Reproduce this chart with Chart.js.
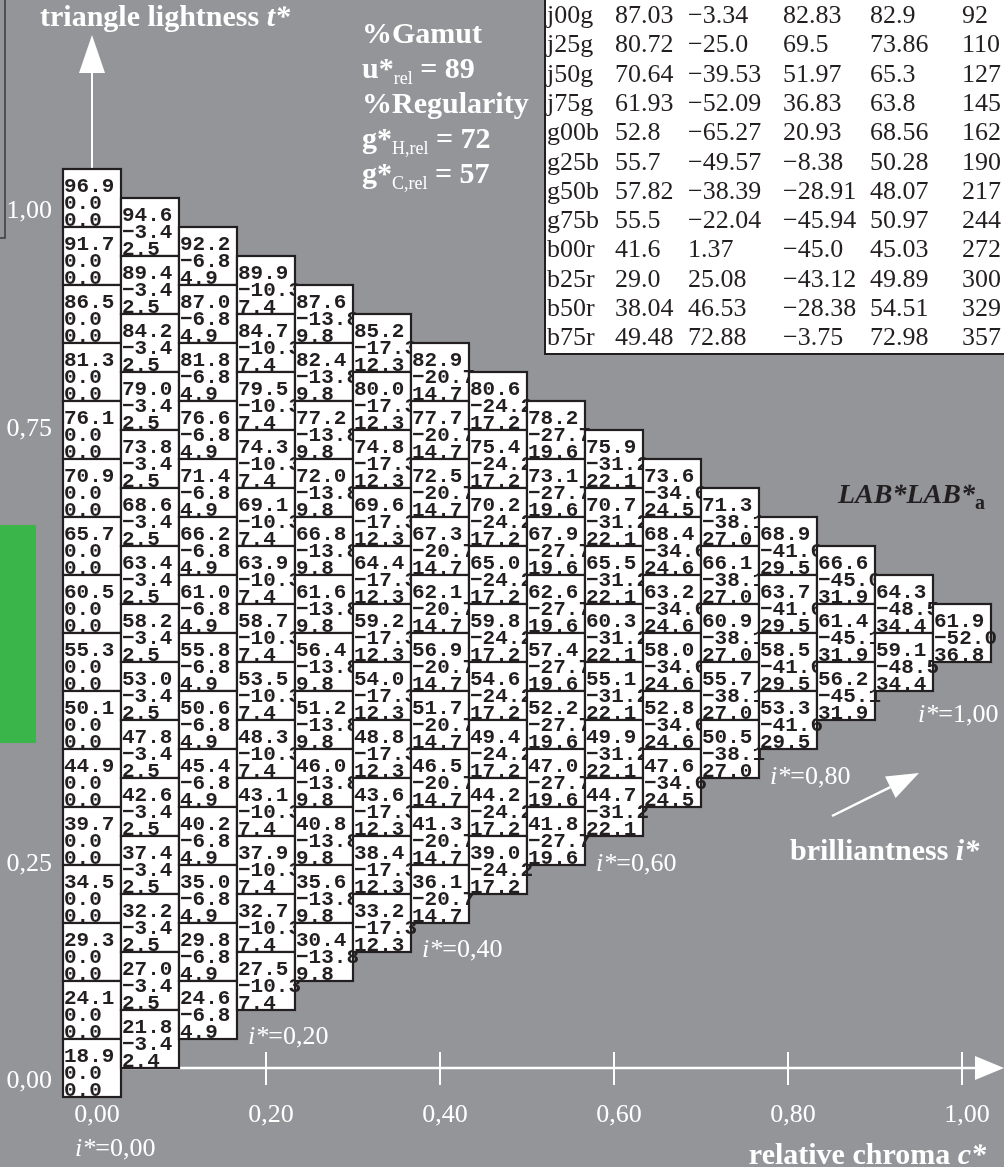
<!DOCTYPE html>
<html>
<head>
<meta charset="utf-8">
<title>LAB*LAB*a triangle</title>
<script src="https://cdn.jsdelivr.net/npm/chart.js@4.4.1/dist/chart.umd.min.js"></script>
<style>
  html, body { margin: 0; padding: 0; background: #939598; }
  #chart-wrap { width: 1004px; height: 1167px; }
</style>
</head>
<body>
<div id="chart-wrap"><canvas id="chart-lab-triangle" width="1004" height="1167"></canvas></div>
<script>
// ----------------------------------------------
// Data: one list per column of the triangle, top cell first
// ----------------------------------------------
const lightness = [
	[96.9, 91.7, 86.5, 81.3, 76.1, 70.9, 65.7, 60.5, 55.3, 50.1, 44.9, 39.7, 34.5, 29.3, 24.1, 18.9],
	[94.6, 89.4, 84.2, 79.0, 73.8, 68.6, 63.4, 58.2, 53.0, 47.8, 42.6, 37.4, 32.2, 27.0, 21.8],
	[92.2, 87.0, 81.8, 76.6, 71.4, 66.2, 61.0, 55.8, 50.6, 45.4, 40.2, 35.0, 29.8, 24.6],
	[89.9, 84.7, 79.5, 74.3, 69.1, 63.9, 58.7, 53.5, 48.3, 43.1, 37.9, 32.7, 27.5],
	[87.6, 82.4, 77.2, 72.0, 66.8, 61.6, 56.4, 51.2, 46.0, 40.8, 35.6, 30.4],
	[85.2, 80.0, 74.8, 69.6, 64.4, 59.2, 54.0, 48.8, 43.6, 38.4, 33.2],
	[82.9, 77.7, 72.5, 67.3, 62.1, 56.9, 51.7, 46.5, 41.3, 36.1],
	[80.6, 75.4, 70.2, 65.0, 59.8, 54.6, 49.4, 44.2, 39.0],
	[78.2, 73.1, 67.9, 62.6, 57.4, 52.2, 47.0, 41.8],
	[75.9, 70.7, 65.5, 60.3, 55.1, 49.9, 44.7],
	[73.6, 68.4, 63.2, 58.0, 52.8, 47.6],
	[71.3, 66.1, 60.9, 55.7, 50.5],
	[68.9, 63.7, 58.5, 53.3],
	[66.6, 61.4, 56.2],
	[64.3, 59.1],
	[61.9],
];
const redGreen = [
	[0.0, 0.0, 0.0, 0.0, 0.0, 0.0, 0.0, 0.0, 0.0, 0.0, 0.0, 0.0, 0.0, 0.0, 0.0, 0.0],
	[-3.4, -3.4, -3.4, -3.4, -3.4, -3.4, -3.4, -3.4, -3.4, -3.4, -3.4, -3.4, -3.4, -3.4, -3.4],
	[-6.8, -6.8, -6.8, -6.8, -6.8, -6.8, -6.8, -6.8, -6.8, -6.8, -6.8, -6.8, -6.8, -6.8],
	[-10.3, -10.3, -10.3, -10.3, -10.3, -10.3, -10.3, -10.3, -10.3, -10.3, -10.3, -10.3, -10.3],
	[-13.8, -13.8, -13.8, -13.8, -13.8, -13.8, -13.8, -13.8, -13.8, -13.8, -13.8, -13.8],
	[-17.3, -17.3, -17.3, -17.3, -17.3, -17.3, -17.3, -17.3, -17.3, -17.3, -17.3],
	[-20.7, -20.7, -20.7, -20.7, -20.7, -20.7, -20.7, -20.7, -20.7, -20.7],
	[-24.2, -24.2, -24.2, -24.2, -24.2, -24.2, -24.2, -24.2, -24.2],
	[-27.7, -27.7, -27.7, -27.7, -27.7, -27.7, -27.7, -27.7],
	[-31.2, -31.2, -31.2, -31.2, -31.2, -31.2, -31.2],
	[-34.6, -34.6, -34.6, -34.6, -34.6, -34.6],
	[-38.1, -38.1, -38.1, -38.1, -38.1],
	[-41.6, -41.6, -41.6, -41.6],
	[-45.0, -45.1, -45.1],
	[-48.5, -48.5],
	[-52.0],
];
const yellowBlue = [
	[0.0, 0.0, 0.0, 0.0, 0.0, 0.0, 0.0, 0.0, 0.0, 0.0, 0.0, 0.0, 0.0, 0.0, 0.0, 0.0],
	[2.5, 2.5, 2.5, 2.5, 2.5, 2.5, 2.5, 2.5, 2.5, 2.5, 2.5, 2.5, 2.5, 2.5, 2.4],
	[4.9, 4.9, 4.9, 4.9, 4.9, 4.9, 4.9, 4.9, 4.9, 4.9, 4.9, 4.9, 4.9, 4.9],
	[7.4, 7.4, 7.4, 7.4, 7.4, 7.4, 7.4, 7.4, 7.4, 7.4, 7.4, 7.4, 7.4],
	[9.8, 9.8, 9.8, 9.8, 9.8, 9.8, 9.8, 9.8, 9.8, 9.8, 9.8, 9.8],
	[12.3, 12.3, 12.3, 12.3, 12.3, 12.3, 12.3, 12.3, 12.3, 12.3, 12.3],
	[14.7, 14.7, 14.7, 14.7, 14.7, 14.7, 14.7, 14.7, 14.7, 14.7],
	[17.2, 17.2, 17.2, 17.2, 17.2, 17.2, 17.2, 17.2, 17.2],
	[19.6, 19.6, 19.6, 19.6, 19.6, 19.6, 19.6, 19.6],
	[22.1, 22.1, 22.1, 22.1, 22.1, 22.1, 22.1],
	[24.5, 24.6, 24.6, 24.6, 24.6, 24.5],
	[27.0, 27.0, 27.0, 27.0, 27.0],
	[29.5, 29.5, 29.5, 29.5],
	[31.9, 31.9, 31.9],
	[34.4, 34.4],
	[36.8],
];

// Axis ticks
const chromaTicks = [0, 0.2, 0.4, 0.6, 0.8, 1.0];
const chromaTickLabels = ["0,00", "0,20", "0,40", "0,60", "0,80", "1,00"];
const lightnessTicks = [0, 0.25, 0.75, 1.0];
const lightnessTickLabels = ["0,00", "0,25", "0,75", "1,00"];
const brilliantnessLabels = ["0,00", "0,20", "0,40", "0,60", "0,80", "1,00"];

// Hue table (top right)
const hueNames = ["j00g", "j25g", "j50g", "j75g", "g00b", "g25b", "g50b", "g75b", "b00r", "b25r", "b50r", "b75r"];
const hueL = ["87.03", "80.72", "70.64", "61.93", "52.8", "55.7", "57.82", "55.5", "41.6", "29.0", "38.04", "49.48"];
const hueA = ["-3.34", "-25.0", "-39.53", "-52.09", "-65.27", "-49.57", "-38.39", "-22.04", "1.37", "25.08", "46.53", "72.88"];
const hueB = ["82.83", "69.5", "51.97", "36.83", "20.93", "-8.38", "-28.91", "-45.94", "-45.0", "-43.12", "-28.38", "-3.75"];
const hueC = ["82.9", "73.86", "65.3", "63.8", "68.56", "50.28", "48.07", "50.97", "45.03", "49.89", "54.51", "72.98"];
const hueH = ["92", "110", "127", "145", "162", "190", "217", "244", "272", "300", "329", "357"];

// ----------------------------------------------
// Styles
// ----------------------------------------------
const SERIF = '"Liberation Serif", "Times New Roman", serif';
const MONO = '"Liberation Mono", "Courier New", monospace';
const COLORS = {
	background: "#939598",
	ink: "#231f20",
	white: "#ffffff",
	green: "#39b54a",
};
const STEPS = 15; // cells along the chroma axis
const CELL = 1 / STEPS;

const minus = (s) => String(s).replace("-", "\u2212");

// Cells in (relative chroma c*, triangle lightness t*) coordinates
const cells = [];
lightness.forEach((col, j) => {
	col.forEach((L, k) => {
		cells.push({
			x: j * CELL,
			y: 1 - j * CELL / 2 - k * CELL,
			L: L,
			a: redGreen[j][k],
			b: yellowBlue[j][k],
		});
	});
});

// Draw a string made of several font runs, returns the end x
const drawRuns = (ctx, x, y, runs) => {
	runs.forEach(([txt, font, dy]) => {
		ctx.font = font;
		ctx.fillText(txt, x, y + (dy || 0));
		x += ctx.measureText(txt).width;
	});
	return x;
};

const runsWidth = (ctx, runs) => {
	let w = 0;
	runs.forEach(([txt, font]) => {
		ctx.font = font;
		w += ctx.measureText(txt).width;
	});
	return w;
};

const drawArrow = (ctx, x1, y1, x2, y2, len, half, width) => {
	const ang = Math.atan2(y2 - y1, x2 - x1);
	const bx = x2 - Math.cos(ang) * len;
	const by = y2 - Math.sin(ang) * len;
	ctx.lineWidth = width;
	ctx.beginPath();
	ctx.moveTo(x1, y1);
	ctx.lineTo(bx, by);
	ctx.stroke();
	ctx.beginPath();
	ctx.moveTo(x2, y2);
	ctx.lineTo(bx + Math.sin(ang) * half, by - Math.cos(ang) * half);
	ctx.lineTo(bx - Math.sin(ang) * half, by + Math.cos(ang) * half);
	ctx.closePath();
	ctx.fill();
};

// ----------------------------------------------
// Background, axes and labels (under the cells)
// ----------------------------------------------
const backdropPlugin = {
	id: "backdrop",
	beforeDraw(chart) {
		const { ctx, width, height } = chart;
		ctx.save();
		ctx.fillStyle = COLORS.background;
		ctx.fillRect(0, 0, width, height);
		ctx.restore();
	},
	beforeDatasetsDraw(chart) {
		const { ctx } = chart;
		const xs = chart.scales.x;
		const ys = chart.scales.y;
		const x0 = xs.getPixelForValue(0);
		const y0 = ys.getPixelForValue(0);
		ctx.save();

		// left frame and green patch
		ctx.strokeStyle = "#3a3a3c";
		ctx.lineWidth = 1.5;
		ctx.strokeRect(-10, -10, 15, 248);
		ctx.fillStyle = COLORS.green;
		ctx.fillRect(0, 525, 36, 218);

		// axes
		ctx.strokeStyle = COLORS.white;
		ctx.fillStyle = COLORS.white;
		drawArrow(ctx, x0, y0, x0, 35, 38, 13, 2);
		drawArrow(ctx, x0, y0, 1004, y0, 29, 12, 2.5);
		ctx.lineWidth = 2;
		chromaTicks.forEach((v) => {
			const x = xs.getPixelForValue(v);
			ctx.beginPath();
			ctx.moveTo(x, y0 - 16);
			ctx.lineTo(x, y0 + 17);
			ctx.stroke();
		});

		// tick labels
		ctx.font = `26px ${SERIF}`;
		ctx.textAlign = "center";
		chromaTicks.forEach((v, i) => {
			ctx.fillText(chromaTickLabels[i], xs.getPixelForValue(v) + 5, y0 + 54);
		});
		ctx.textAlign = "right";
		lightnessTicks.forEach((v, i) => {
			ctx.fillText(lightnessTickLabels[i], 52, ys.getPixelForValue(v) + 20);
		});
		ctx.textAlign = "left";

		// brilliantness labels along the staircase
		const iPos = [[75, 1156], [248, 1044], [422, 957], [596, 871], [770, 784], [918, 722]];
		brilliantnessLabels.forEach((lab, i) => {
			drawRuns(ctx, iPos[i][0], iPos[i][1], [
				["i*", `italic 26px ${SERIF}`],
				["=" + lab, `26px ${SERIF}`],
			]);
		});

		// titles
		const B = `bold 30px ${SERIF}`;
		const BI = `italic bold 30px ${SERIF}`;
		const SUB = `18px ${SERIF}`;
		drawRuns(ctx, 40, 26, [["triangle lightness ", B], ["t*", BI]]);
		drawRuns(ctx, 362, 43, [["%Gamut", B]]);
		drawRuns(ctx, 362, 78, [["u*", B], ["rel", SUB, 6], [" = 89", B]]);
		drawRuns(ctx, 362, 113, [["%Regularity", B]]);
		drawRuns(ctx, 362, 148, [["g*", B], ["H,rel", SUB, 6], [" = 72", B]]);
		drawRuns(ctx, 362, 183, [["g*", B], ["C,rel", SUB, 6], [" = 57", B]]);

		drawArrow(ctx, 832, 816, 919, 773, 32, 12, 2.5);
		drawRuns(ctx, 790, 860, [["brilliantness ", B], ["i*", BI]]);
		const axisTitle = [["relative chroma ", B], ["c*", BI]];
		drawRuns(ctx, 986 - runsWidth(ctx, axisTitle), 1164, axisTitle);

		ctx.fillStyle = COLORS.ink;
		drawRuns(ctx, 838, 503, [["LAB*LAB*", `italic bold 28px ${SERIF}`], ["a", `bold 20px ${SERIF}`, 6]]);

		// hue table
		ctx.fillStyle = COLORS.white;
		ctx.fillRect(545, -2, 470, 356);
		ctx.strokeStyle = COLORS.ink;
		ctx.lineWidth = 2;
		ctx.strokeRect(545, -2, 470, 356);
		ctx.fillStyle = COLORS.ink;
		ctx.font = `26px ${SERIF}`;
		const colX = [547, 615, 688, 783, 870, 962];
		hueNames.forEach((name, i) => {
			const y = 23 + i * 29.3;
			[name, hueL[i], hueA[i], hueB[i], hueC[i], hueH[i]].forEach((t, c) => {
				ctx.fillText(minus(t), colX[c], y);
			});
		});
		ctx.restore();
	},
	// ----------------------------------------------
	// Cells: white boxes with L*, a*, b*
	// ----------------------------------------------
	afterDatasetsDraw(chart) {
		const { ctx } = chart;
		const xs = chart.scales.x;
		const ys = chart.scales.y;
		const w = xs.getPixelForValue(CELL) - xs.getPixelForValue(0);
		const h = ys.getPixelForValue(0) - ys.getPixelForValue(CELL);
		const meta = chart.getDatasetMeta(0);
		ctx.save();
		ctx.font = `bold 21px ${MONO}`;
		meta.data.forEach((pt, i) => {
			const d = cells[i];
			const left = pt.x - w / 2;
			const top = pt.y - h / 2;
			ctx.fillStyle = COLORS.white;
			ctx.fillRect(left, top, w, h);
			ctx.strokeStyle = COLORS.ink;
			ctx.lineWidth = 2.2;
			ctx.strokeRect(left, top, w, h);
			ctx.fillStyle = COLORS.ink;
			ctx.fillText(minus(d.L.toFixed(1)), left + 1, top + 23);
			ctx.fillText(minus(d.a.toFixed(1)), left + 1, top + 40);
			ctx.fillText(minus(d.b.toFixed(1)), left + 1, top + 57);
		});
		ctx.restore();
	},
};

const CHART_WRAPPER = document.getElementById("chart-lab-triangle");

new Chart(CHART_WRAPPER, {
	type: "scatter",
	data: {
		datasets: [
			{
				data: cells,
				pointRadius: 0,
				pointHoverRadius: 0,
			},
		],
	},
	options: {
		responsive: false,
		animation: false,
		devicePixelRatio: 1,
		events: [],
		layout: { padding: 0 },
		plugins: {
			legend: { display: false },
			title: { display: false },
			tooltip: { enabled: false },
		},
		scales: {
			x: { type: "linear", display: false, min: -92 / 870, max: 912 / 870 },
			y: { type: "linear", display: false, min: -99 / 870, max: 1068 / 870 },
		},
	},
	plugins: [backdropPlugin],
});
</script>
</body>
</html>
